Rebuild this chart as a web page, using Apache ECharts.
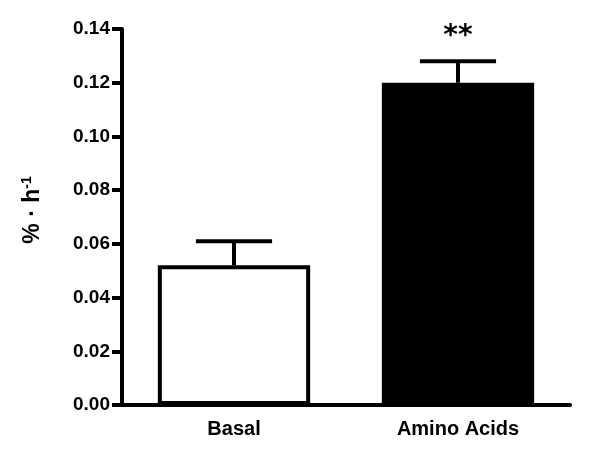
<!DOCTYPE html>
<html>
<head>
<meta charset="utf-8">
<script src="https://cdn.jsdelivr.net/npm/echarts@6/dist/echarts.min.js"></script>
<style>html,body{margin:0;padding:0;background:#fff;}#c{width:609px;height:457px;}</style>
</head>
<body>
<div id="c"></div>
<script>
const categories = ['Basal', 'Amino Acids'];
const means = [0.052, 0.120];
const errorTops = [0.061, 0.128];
const significance = ['', '**'];
const barColors = ['#ffffff', '#000000'];
const yTicks = [0, 0.02, 0.04, 0.06, 0.08, 0.10, 0.12, 0.14];

const FONT = '"Liberation Sans", Arial, sans-serif';
const chart = echarts.init(document.getElementById('c'), null, {renderer: 'canvas'});

const option = {
  backgroundColor: '#ffffff',
  animation: false,
  grid: {left: 122, right: 39, top: 29, bottom: 52, containLabel: false},
  xAxis: {
    type: 'category',
    data: categories,
    axisLine: {lineStyle: {color: '#000', width: 4}},
    axisTick: {show: false},
    axisLabel: {color: '#000', fontFamily: FONT, fontWeight: 'bold', fontSize: 20, margin: 14}
  },
  yAxis: {
    type: 'value',
    min: yTicks[0],
    max: yTicks[yTicks.length - 1],
    interval: 0.02,
    splitLine: {show: false},
    axisLine: {show: true, lineStyle: {color: '#000', width: 4}},
    axisTick: {show: true, length: 10, lineStyle: {color: '#000', width: 4}},
    axisLabel: {color: '#000', fontFamily: FONT, fontWeight: 'bold', fontSize: 19, margin: 12,
      formatter: v => v.toFixed(2)},
    name: '% · h{sup|-1}',
    nameLocation: 'middle',
    nameRotate: 90,
    nameGap: 76,
    nameTextStyle: {
      color: '#000', fontFamily: FONT, fontWeight: 'bold', fontSize: 23,
      padding: [0, 0, 0, 14],
      rich: {
        sup: {color: '#000', fontFamily: FONT, fontWeight: 'bold', fontSize: 14, padding: [0, 0, 12, 0]}
      }
    }
  },
  series: [
    {
      type: 'bar',
      barWidth: '68%',
      data: means.map((v, i) => ({value: v, itemStyle: {color: barColors[i], borderColor: '#000', borderWidth: 4}})),
      z: 1
    },
    {
      type: 'custom',
      z: 3,
      data: means.map((v, i) => [i, v, errorTops[i]]),
      renderItem: function (params, api) {
        const i = params.dataIndex;
        const base = api.coord([api.value(0), api.value(1)]);
        const top = api.coord([api.value(0), api.value(2)]);
        const band = api.size([1, 0])[0];
        const half = band * 0.68 / 4;
        const children = [
          {type: 'line', shape: {x1: base[0], y1: base[1], x2: top[0], y2: top[1]}, style: {stroke: '#000', lineWidth: 4}},
          {type: 'line', shape: {x1: top[0] - half, y1: top[1], x2: top[0] + half, y2: top[1]}, style: {stroke: '#000', lineWidth: 4}}
        ];
        if (significance[i]) {
          children.push({type: 'text', style: {x: top[0], y: top[1] - 11, text: significance[i], fill: '#000',
            font: 'bold 28px "DejaVu Sans", sans-serif', textAlign: 'center', textVerticalAlign: 'bottom'}});
        }
        return {type: 'group', children: children};
      }
    }
  ]
};
chart.setOption(option);
</script>
</body>
</html>
